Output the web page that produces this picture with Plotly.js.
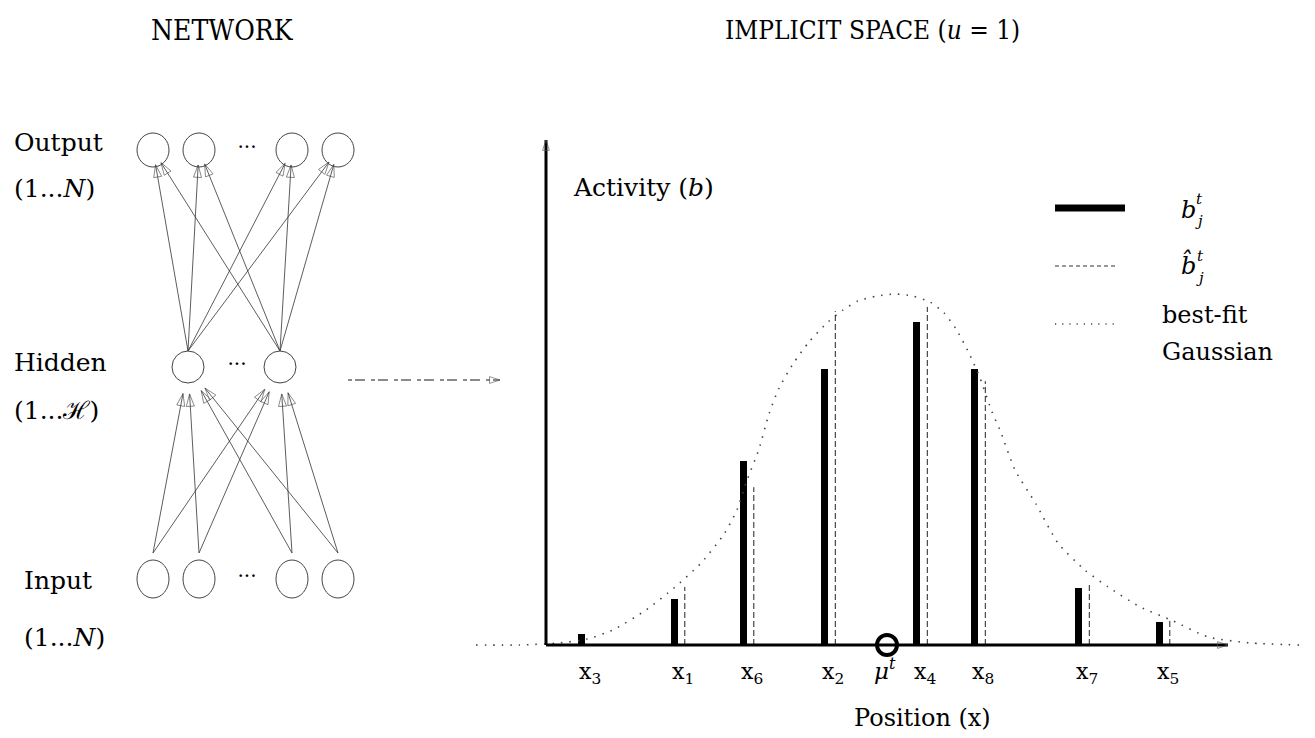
<!DOCTYPE html>
<html>
<head>
<meta charset="utf-8">
<script src="https://cdn.plot.ly/plotly-3.0.1.min.js"></script>
<style>html,body{margin:0;padding:0;background:#fff;}#chart{width:1315px;height:738px;}</style>
</head>
<body>
<div id="chart"></div>
<script>
// ---------------- DATA ----------------
// Network panel
const networkLayers = ['Output', 'Hidden', 'Input'];
const layerRanges = ['(1...<i>N</i>)', '(1...ℋ)', '(1...<i>N</i>)'];
const nodesShown = [4, 2, 4];

// Implicit space panel (positions in arbitrary position units, activity normalised to peak ~1)
const pointIds = [3, 1, 6, 2, 4, 8, 7, 5];
const positions = [3.5, 12.8, 19.7, 27.85, 37.05, 42.85, 53.25, 61.3];
const activity = [0.031, 0.131, 0.526, 0.789, 0.923, 0.789, 0.163, 0.066];
const fitActivity = [null, 0.166, 0.451, 0.954, 0.966, 0.754, 0.177, 0.074];
const muPosition = 34.1;
const gaussX = [-7.0, -2.6, 1.4, 4.1, 6.7, 10.0, 12.8, 15.5, 17.8, 19.1, 20.0, 21.3, 22.3, 23.3, 24.7, 26.3, 28.2, 29.7, 31.2, 33.1, 34.9, 36.7, 38.4, 39.8, 41.0, 42.3, 43.4, 44.6, 45.4, 46.9, 49.0, 51.2, 53.9, 56.2, 59.4, 62.7, 66.2, 70.4, 75.4];
const gaussY = [0.0, 0.0, 0.006, 0.017, 0.043, 0.100, 0.163, 0.234, 0.317, 0.386, 0.463, 0.560, 0.660, 0.734, 0.803, 0.866, 0.923, 0.957, 0.983, 0.997, 1.003, 0.997, 0.980, 0.949, 0.903, 0.834, 0.763, 0.666, 0.614, 0.500, 0.403, 0.291, 0.214, 0.166, 0.109, 0.069, 0.023, 0.006, 0.0];

// ---------------- STYLE / LAYOUT ----------------
const SERIF = 'DejaVu Serif, Liberation Serif, serif';
const TITLEFONT = 'DejaVu Serif Condensed, DejaVu Serif, serif';
const W = 1315, H = 738;
const FIT_OFFSET = 1.08;   // dashed line offset from bar (position units)
const X2RANGE = [-54.6, 76.9];
const Y2RANGE = [-0.2657, 1.8429];

const shapes = [];
const ann = [];

function txt(x, y, text, size, opts) {
  ann.push(Object.assign({xref:'x', yref:'y', x:x, y:y, text:text, showarrow:false,
    font:{family:SERIF, size:size, color:'#000'}}, opts || {}));
}

// arrow traces: segments with an arrowhead marker at the end point
function arrowTrace(segs, axes, lineStyle, headSize, headColor) {
  const xs = [], ys = [], sz = [];
  segs.forEach(s => { xs.push(s[0], s[2], null); ys.push(s[1], s[3], null); sz.push(0, headSize, 0); });
  return {x:xs, y:ys, xaxis:axes[0], yaxis:axes[1], mode:'lines+markers', line:lineStyle,
    marker:{symbol:'arrow-open', size:sz, angleref:'previous', color:headColor, line:{width:0.9, color:headColor}},
    hoverinfo:'skip', showlegend:false, cliponaxis:false};
}

// ---- titles
txt(222, 30, 'NETWORK', 28, {font:{family:TITLEFONT, size:28, color:'#000'}});
txt(872, 30, 'IMPLICIT SPACE (<i>u</i> = 1)', 26, {font:{family:TITLEFONT, size:26, color:'#000'}});

// ---- network panel
const layerY = [150, 367, 579];
const layerRy = [17, 16, 19];
const labelX = [12, 12, 22];
const labelY = [[142, 188], [362, 410], [580, 637]];
const rx = 16;
function nodeXs(n) {
  if (n === 4) return [153, 199, 292, 338];
  return [188, 280];
}
const nodes = networkLayers.map((name, li) => nodeXs(nodesShown[li]).map(x => ({x:x, y:layerY[li], ry:layerRy[li]})));

networkLayers.forEach((name, li) => {
  txt(labelX[li], labelY[li][0], name, 25, {xanchor:'left'});
  txt(labelX[li], labelY[li][1], layerRanges[li], 25, {xanchor:'left'});
  nodes[li].forEach(n => {
    shapes.push({type:'circle', xref:'x', yref:'y', x0:n.x - rx, x1:n.x + rx, y0:n.y - n.ry, y1:n.y + n.ry,
      line:{color:'#444', width:1}});
  });
});
const dotsTrace = {x:[247, 237, 247], y:[143, 360, 572], xaxis:'x', yaxis:'y', mode:'text', text:['...', '...', '...'],
  textfont:{family:SERIF, size:20, color:'#000'}, hoverinfo:'skip', showlegend:false};

function tipOn(cx, cy, sx, sy, r) {
  const dx = sx - cx, dy = sy - cy, L = Math.hypot(dx, dy);
  return [cx + dx / L * r, cy + dy / L * r];
}
const edgeSegs = [];
nodes[1].forEach(h => {
  const sx = h.x, sy = h.y - 16;
  nodes[0].forEach(o => { const t = tipOn(o.x, o.y, sx, sy, 15); edgeSegs.push([sx, sy, t[0], t[1]]); });
});
nodes[2].forEach(inp => {
  const sx = inp.x, sy = inp.y - 26;
  nodes[1].forEach(h => { const t = tipOn(h.x, h.y, sx, sy, 27); edgeSegs.push([sx, sy, t[0], t[1]]); });
});
const edgeTrace = arrowTrace(edgeSegs, ['x', 'y'], {color:'#333', width:0.8}, 13, '#444');

// dashed arrow network -> implicit space
const linkTrace = arrowTrace([[348, 380, 500, 380]], ['x', 'y'], {color:'#666', width:1.5, dash:'4px,3px,10px,6px'}, 11, '#555');

// ---- implicit space panel axes (axis units)
const AX_END = 68.2, AY_END = 1.443;
const axisTrace = arrowTrace([[0, 0, AX_END, 0], [0, 0, 0, AY_END]], ['x2', 'y2'], {color:'#000', width:3}, 11, '#555');

ann.push({xref:'x2', yref:'y2', x:2.5, y:1.306, xanchor:'left', text:'Activity (<i>b</i>)', showarrow:false,
  font:{family:SERIF, size:25, color:'#000'}});
ann.push({xref:'x2', yref:'y2', x:37.6, y:-0.209, text:'Position (x)', showarrow:false,
  font:{family:SERIF, size:24, color:'#000'}});

pointIds.forEach((id, i) => {
  ann.push({xref:'x2', yref:'y2', x:positions[i] - 0.45, y:-0.08, xanchor:'left', text:'x<sub>' + id + '</sub>',
    showarrow:false, font:{family:SERIF, size:22, color:'#000'}});
});
ann.push({xref:'x2', yref:'y2', x:muPosition - 0.2, y:-0.068, text:'<i>μ</i><sup><i>t</i></sup>', showarrow:false,
  font:{family:SERIF, size:23, color:'#000'}});

const fx = [], fy = [];
positions.forEach((p, i) => {
  if (fitActivity[i] == null) return;
  fx.push(p + FIT_OFFSET, p + FIT_OFFSET, null);
  fy.push(0, fitActivity[i], null);
});

const traces = [
  dotsTrace,
  edgeTrace,
  linkTrace,
  {x:gaussX, y:gaussY, xaxis:'x2', yaxis:'y2', mode:'lines', line:{color:'#444', width:1.6, dash:'1.5px,7px', shape:'spline', smoothing:0.6},
   hoverinfo:'skip', showlegend:false},
  {x:fx, y:fy, xaxis:'x2', yaxis:'y2', mode:'lines', line:{color:'#222', width:1, dash:'6px,3px'}, hoverinfo:'skip', showlegend:false},
  axisTrace,
  {type:'bar', x:positions, y:activity, xaxis:'x2', yaxis:'y2', width:0.7, marker:{color:'#000', line:{width:0}},
   hoverinfo:'skip', showlegend:false},
  {x:[muPosition], y:[0], xaxis:'x2', yaxis:'y2', mode:'markers',
   marker:{symbol:'circle-open', size:20, color:'#000', line:{width:4, color:'#000'}}, hoverinfo:'skip', showlegend:false}
];

// ---- manual legend
shapes.push({type:'line', xref:'x', yref:'y', x0:1055, x1:1125, y0:208, y1:208, line:{color:'#000', width:7}});
shapes.push({type:'line', xref:'x', yref:'y', x0:1055, x1:1117, y0:266, y1:266, line:{color:'#333', width:1.2, dash:'4px,3px'}});
shapes.push({type:'line', xref:'x', yref:'y', x0:1055, x1:1118, y0:324, y1:324, line:{color:'#444', width:1.4, dash:'1.2px,6px'}});
txt(1188, 210, '<i>b</i>', 24);
txt(1199, 199, '<i>t</i>', 15);
txt(1199, 221, '<i>j</i>', 15);
txt(1188, 264, '<i>b\u0302</i>', 24);
txt(1200, 256, '<i>t</i>', 15);
txt(1200, 278, '<i>j</i>', 15);
txt(1160, 315, 'best-fit', 24, {xanchor:'left'});
txt(1160, 352, 'Gaussian', 24, {xanchor:'left'});

const layout = {
  width:W, height:H, margin:{l:0, r:0, t:0, b:0, pad:0},
  paper_bgcolor:'#fff', plot_bgcolor:'#fff', showlegend:false, bargap:0,
  xaxis:{range:[0, W], visible:false, fixedrange:true, domain:[0, 1]},
  yaxis:{range:[H, 0], visible:false, fixedrange:true, domain:[0, 1]},
  xaxis2:{range:X2RANGE, visible:false, fixedrange:true, overlaying:'x', anchor:'y2'},
  yaxis2:{range:Y2RANGE, visible:false, fixedrange:true, overlaying:'y', anchor:'x2'},
  shapes:shapes, annotations:ann
};
Plotly.newPlot('chart', traces, layout, {staticPlot:true, displayModeBar:false});
</script>
</body>
</html>
